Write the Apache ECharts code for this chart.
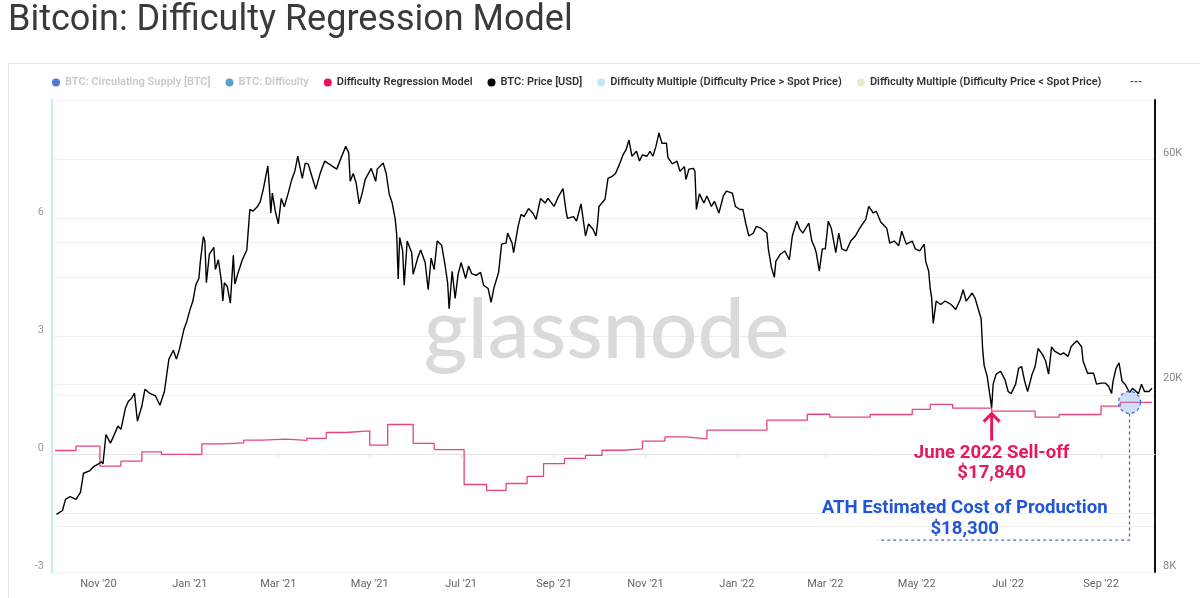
<!DOCTYPE html>
<html><head><meta charset="utf-8">
<script src="https://cdn.jsdelivr.net/npm/echarts@6/dist/echarts.min.js"></script>
<style>html,body{margin:0;padding:0;background:#fff;}#c{width:1200px;height:598px;}</style>
</head><body><div id="c"></div>
<script>
// ---------------- DATA ----------------
const titleText = 'Bitcoin: Difficulty Regression Model';
const seriesNames = ['BTC: Circulating Supply [BTC]', 'BTC: Difficulty', 'Difficulty Regression Model', 'BTC: Price [USD]',
  'Difficulty Multiple (Difficulty Price > Spot Price)', 'Difficulty Multiple (Difficulty Price < Spot Price)'];
const xMin = '2020-10-01', xMax = '2022-10-07';
const leftMin = -3, leftMax = 9, leftStep = 1.5;
const rightMin = 8000, rightMax = 80000;
const rightLabelValues = [8000, 20000, 60000];
const rightGridValues = [10000, 20000, 40000, 60000];

const priceDates = ['2020-10-04','2020-10-08','2020-10-10','2020-10-13','2020-10-17','2020-10-20','2020-10-22','2020-10-26','2020-10-29','2020-11-01','2020-11-03','2020-11-04','2020-11-06','2020-11-09','2020-11-12','2020-11-14','2020-11-16','2020-11-19','2020-11-21','2020-11-23','2020-11-25','2020-11-27','2020-11-30','2020-12-02','2020-12-05','2020-12-09','2020-12-12','2020-12-15','2020-12-18','2020-12-21','2020-12-23','2020-12-25','2020-12-28','2020-12-30','2021-01-01','2021-01-03','2021-01-05','2021-01-07','2021-01-08','2021-01-10','2021-01-11','2021-01-12','2021-01-14','2021-01-17','2021-01-18','2021-01-20','2021-01-22','2021-01-23','2021-01-24','2021-01-26','2021-01-28','2021-01-30','2021-01-31','2021-02-02','2021-02-05','2021-02-08','2021-02-10','2021-02-12','2021-02-15','2021-02-17','2021-02-19','2021-02-22','2021-02-23','2021-02-24','2021-02-25','2021-02-27','2021-03-01','2021-03-03','2021-03-05','2021-03-08','2021-03-10','2021-03-12','2021-03-14','2021-03-17','2021-03-19','2021-03-21','2021-03-23','2021-03-26','2021-03-29','2021-04-01','2021-04-03','2021-04-09','2021-04-12','2021-04-15','2021-04-17','2021-04-18','2021-04-20','2021-04-22','2021-04-24','2021-04-26','2021-04-28','2021-05-02','2021-05-05','2021-05-06','2021-05-10','2021-05-12','2021-05-14','2021-05-16','2021-05-18','2021-05-19','2021-05-20','2021-05-21','2021-05-23','2021-05-24','2021-05-26','2021-05-29','2021-05-30','2021-06-02','2021-06-04','2021-06-07','2021-06-09','2021-06-11','2021-06-13','2021-06-15','2021-06-18','2021-06-20','2021-06-22','2021-06-23','2021-06-25','2021-06-27','2021-06-29','2021-07-01','2021-07-04','2021-07-06','2021-07-08','2021-07-11','2021-07-14','2021-07-16','2021-07-19','2021-07-21','2021-07-23','2021-07-26','2021-07-28','2021-07-31','2021-08-01','2021-08-04','2021-08-05','2021-08-08','2021-08-10','2021-08-12','2021-08-15','2021-08-18','2021-08-20','2021-08-23','2021-08-26','2021-08-28','2021-09-01','2021-09-04','2021-09-07','2021-09-09','2021-09-10','2021-09-14','2021-09-16','2021-09-19','2021-09-22','2021-09-24','2021-09-27','2021-09-29','2021-09-30','2021-10-01','2021-10-05','2021-10-07','2021-10-10','2021-10-12','2021-10-14','2021-10-17','2021-10-19','2021-10-21','2021-10-23','2021-10-26','2021-10-28','2021-10-30','2021-11-02','2021-11-04','2021-11-06','2021-11-08','2021-11-10','2021-11-12','2021-11-15','2021-11-16','2021-11-19','2021-11-22','2021-11-24','2021-11-27','2021-11-28','2021-11-30','2021-12-03','2021-12-04','2021-12-05','2021-12-07','2021-12-10','2021-12-12','2021-12-15','2021-12-17','2021-12-20','2021-12-23','2021-12-25','2021-12-29','2021-12-31','2022-01-03','2022-01-05','2022-01-07','2022-01-09','2022-01-12','2022-01-14','2022-01-17','2022-01-21','2022-01-22','2022-01-24','2022-01-26','2022-01-27','2022-01-30','2022-02-02','2022-02-05','2022-02-07','2022-02-10','2022-02-12','2022-02-14','2022-02-18','2022-02-20','2022-02-22','2022-02-23','2022-02-25','2022-02-27','2022-03-01','2022-03-03','2022-03-05','2022-03-08','2022-03-10','2022-03-12','2022-03-15','2022-03-18','2022-03-21','2022-03-24','2022-03-28','2022-03-30','2022-04-02','2022-04-04','2022-04-07','2022-04-11','2022-04-13','2022-04-16','2022-04-19','2022-04-21','2022-04-24','2022-04-28','2022-04-30','2022-05-03','2022-05-06','2022-05-07','2022-05-09','2022-05-10','2022-05-11','2022-05-12','2022-05-14','2022-05-17','2022-05-20','2022-05-24','2022-05-27','2022-05-30','2022-06-01','2022-06-03','2022-06-07','2022-06-09','2022-06-11','2022-06-13','2022-06-14','2022-06-15','2022-06-17','2022-06-20','2022-06-21','2022-06-23','2022-06-26','2022-06-29','2022-07-01','2022-07-03','2022-07-06','2022-07-08','2022-07-10','2022-07-12','2022-07-14','2022-07-17','2022-07-19','2022-07-21','2022-07-24','2022-07-26','2022-07-28','2022-07-30','2022-08-01','2022-08-05','2022-08-07','2022-08-10','2022-08-12','2022-08-14','2022-08-16','2022-08-19','2022-08-20','2022-08-23','2022-08-25','2022-08-27','2022-08-29','2022-09-01','2022-09-04','2022-09-06','2022-09-08','2022-09-09','2022-09-11','2022-09-13','2022-09-15','2022-09-17','2022-09-20','2022-09-22','2022-09-26','2022-09-28','2022-09-30','2022-10-03','2022-10-05'];
const priceValues = [10600,10800,11400,11550,11400,11800,12950,13100,13400,13550,13700,13550,15650,15000,15750,16300,16050,17800,18400,18650,19150,16700,18000,19500,19150,18900,18050,19300,22600,23600,22600,23700,26100,27200,28700,30000,32500,33500,36400,41100,40200,32800,37700,39000,35000,36700,33100,30000,32800,32200,29700,37500,32600,34300,36700,38500,46900,46500,47500,48800,51800,58000,52500,46100,50800,46500,43700,49500,47500,51300,54300,56500,60800,54600,58800,58500,55700,51800,56000,59400,58800,57100,60400,63800,61800,53800,55900,53300,48200,50800,54300,57300,53800,57100,58800,55900,50600,48400,44800,41500,33400,40900,38300,32400,40200,38000,34200,37000,38500,36200,31700,37000,35000,40200,39400,36200,32800,28900,34700,30400,34200,36200,33500,35600,34300,34000,34500,32400,31900,29800,32100,34500,39600,39800,41800,39800,38000,43200,45800,45300,47100,46000,44700,49500,48400,49500,47600,50000,51900,46500,44900,45300,44300,48200,41200,43700,42600,41200,43700,47600,49300,54600,55200,55900,57800,61200,62700,65800,60800,62300,59400,61200,60800,62300,60800,63800,68100,64800,64800,60400,58600,59400,56500,57800,54300,57100,57300,56500,46900,50600,48400,50100,47600,48800,46100,50100,51300,50800,47600,46900,46900,43700,41200,41800,43200,42800,41800,38700,35400,33700,36400,37700,38300,36700,41200,44300,42600,41800,43900,40200,38900,37900,34700,38700,38700,44300,42800,38000,41800,38700,38300,40200,41200,42800,44700,47600,46100,46500,44100,42800,39800,40200,39300,42200,39600,40200,38700,38300,39600,36400,34700,31900,30400,26900,30000,29500,30000,29500,28800,30200,31700,30000,31200,30400,28900,27500,23700,21900,20800,17840,20000,21000,21300,20400,19300,19100,20000,21600,21800,20300,19300,21000,21800,23800,23100,22400,21000,24000,23500,23100,23300,22900,24000,24400,24700,24000,22400,21100,21100,21100,20000,20100,20100,19800,19100,20300,21600,22200,20300,20000,19200,19600,19100,20000,19300,19300,19600];

const modelDates = ['2020-10-03','2020-10-17','2020-11-02','2020-11-16','2020-11-30','2020-12-13','2021-01-09','2021-01-23','2021-02-06','2021-02-19','2021-03-06','2021-03-20','2021-04-02','2021-04-15','2021-05-01','2021-05-13','2021-05-30','2021-06-13','2021-07-03','2021-07-18','2021-07-31','2021-08-14','2021-08-25','2021-09-08','2021-09-22','2021-10-03','2021-10-17','2021-10-30','2021-11-14','2021-11-28','2021-12-12','2022-01-21','2022-02-17','2022-03-04','2022-03-31','2022-04-28','2022-05-10','2022-05-25','2022-06-20','2022-07-19','2022-08-04','2022-09-01','2022-09-14','2022-10-05'];
const modelValues = [14470,14780,13410,13740,14380,14200,14950,15020,15220,15290,15200,15350,15800,15920,14850,16430,14980,14540,12260,11910,12320,12750,13580,13920,14130,14490,14580,15150,15460,15310,15980,16780,17270,17030,17250,17680,18120,17790,17530,17030,17250,17970,18300,18300];

const sellOff = { date: '2022-06-20', value: 17840, line1: 'June 2022 Sell-off', line2: '$17,840' };
const athCost = { date: '2022-09-20', line1: 'ATH Estimated Cost of Production', line2: '$18,300',
                  textDate: '2022-06-02', guideValue: 9350, guideStart: '2022-04-05' };

// ---------------- CHART ----------------
const FONT = 'Roboto, "Noto Sans", sans-serif';
const months = ['Jan','Feb','Mar','Apr','May','Jun','Jul','Aug','Sep','Oct','Nov','Dec'];
function ts(s){ const p = s.split('-').map(Number); return new Date(p[0], p[1]-1, p[2]).getTime(); }
const chart = echarts.init(document.getElementById('c'));

const colors = ['#3563c9', '#3a93c6', '#e8336e', '#000000', '#bfe9f2', '#e6ecc0'];
const legendData = seriesNames.map((n, i) => {
  const item = { name: n, itemStyle: { color: i === 2 ? '#e8125c' : colors[i] } };
  if (i < 2) { item.textStyle = { color: '#c9c9c9' }; item.itemStyle.opacity = 0.85; }
  return item;
});

const series = seriesNames.map((n, i) => ({ name: n, type: 'line', yAxisIndex: 1, data: [], color: colors[i], showSymbol: false }));
series[2] = { name: seriesNames[2], type: 'line', step: 'end', yAxisIndex: 1, showSymbol: false, color: colors[2],
  lineStyle: { color: '#e8467a', width: 1.3 }, data: modelDates.map((d, i) => [ts(d), modelValues[i]]), z: 3 };
series[3] = { name: seriesNames[3], type: 'line', yAxisIndex: 1, showSymbol: false, color: '#000',
  lineStyle: { color: '#000', width: 1.4 }, data: priceDates.map((d, i) => [ts(d), priceValues[i]]), z: 4 };

chart.setOption({
  animation: false,
  backgroundColor: '#fff',
  title: { text: titleText, left: 3, top: -2, textStyle: { fontFamily: FONT, fontSize: 36, fontWeight: 400, color: '#3a3a3a' } },
  legend: { left: 47, top: 72, icon: 'circle', itemWidth: 8, itemHeight: 8, itemGap: 15,
    textStyle: { fontFamily: FONT, fontSize: 11, fontWeight: 600, color: '#333' }, data: legendData },
  grid: { left: 52, right: 45, top: 100, bottom: 26 },
  xAxis: { type: 'time', min: ts(xMin), max: ts(xMax), splitNumber: 10,
    axisLine: { lineStyle: { color: '#e2e2e2' } },
    axisTick: { show: true, length: 4, lineStyle: { color: '#e2e2e2' } },
    axisLabel: { color: '#666', fontSize: 11, fontFamily: FONT, margin: 7, showMinLabel: false, showMaxLabel: false,
      formatter: v => { const d = new Date(v); return months[d.getMonth()] + " '" + String(d.getFullYear()).slice(2); } },
    splitLine: { show: false } },
  yAxis: [
    { type: 'value', min: leftMin, max: leftMax, interval: leftStep, position: 'left',
      axisLine: { show: true, lineStyle: { color: '#c4ecf3', width: 2 } }, axisTick: { show: false },
      axisLabel: { color: '#999', fontSize: 11, fontFamily: FONT, verticalAlign: 'bottom', margin: 8,
        formatter: v => (Math.abs(v % 3) < 1e-9 && v < leftMax) ? String(v) : '' },
      splitLine: { lineStyle: { color: '#efefef' } } },
    { type: 'log', logBase: 10, min: rightMin, max: rightMax, position: 'right',
      axisLine: { show: true, lineStyle: { color: '#111', width: 2 } },
      axisTick: { show: false, customValues: rightGridValues },
      axisLabel: { customValues: rightLabelValues, color: '#888', fontSize: 11, fontFamily: FONT, verticalAlign: 'bottom', margin: 8,
        formatter: v => Math.round(v / 1000) + 'K' },
      splitLine: { show: true, lineStyle: { color: '#efefef' } } }
  ],
  series: series
});

// ---------------- ANNOTATIONS (anchored on data coordinates) ----------------
const P = (d, v) => chart.convertToPixel({ seriesIndex: 3 }, [ts(d), v]);
const gLeft = P(xMin, rightMax);
const gRight = P(xMax, rightMin);
const cx = (gLeft[0] + gRight[0]) / 2, cy = (gLeft[1] + gRight[1]) / 2;

const s = P(sellOff.date, sellOff.value);
const tip = s[1] + 5;
let mi = 0;
for (let i = 0; i < modelDates.length; i++) if (ts(modelDates[i]) <= ts(athCost.date)) mi = i;
const c = P(athCost.date, modelValues[mi]);
const g = P(athCost.date, athCost.guideValue);
const gl = P(athCost.guideStart, athCost.guideValue);
const tx = P(athCost.textDate, athCost.guideValue)[0];
const PINK = '#e5195e', BLUE = '#1f55d6', DASH = '#3d6ed8';
const annFont = 'bold 18.6px Roboto, "Noto Sans", sans-serif';

chart.setOption({
  graphic: [
    { type: 'rect', shape: { x: 8.5, y: 63.5, width: 1210, height: 560 }, style: { fill: 'none', stroke: '#e6e6e6', lineWidth: 1 }, silent: true, z: -1 },
    { type: 'text', x: cx + 3, y: cy - 5, style: { text: 'glassnode', font: '500 84px Lato, Inter, sans-serif', fill: '#dadada', align: 'center', verticalAlign: 'middle' }, silent: true, z: 0 },
    { type: 'text', x: 1130, y: 82, style: { text: '---', font: '600 11px Roboto, sans-serif', fill: '#555', verticalAlign: 'middle' }, silent: true },
    { type: 'line', shape: { x1: s[0], y1: tip + 2, x2: s[0], y2: tip + 28 }, style: { stroke: PINK, lineWidth: 3 }, z: 10 },
    { type: 'polyline', shape: { points: [[s[0] - 8, tip + 9], [s[0], tip + 1], [s[0] + 8, tip + 9]] }, style: { stroke: PINK, lineWidth: 3, fill: 'none', lineJoin: 'miter' }, z: 10 },
    { type: 'text', x: s[0], y: tip + 41, style: { text: sellOff.line1, font: annFont, fill: PINK, align: 'center', verticalAlign: 'middle' }, z: 10 },
    { type: 'text', x: s[0], y: tip + 61, style: { text: sellOff.line2, font: annFont, fill: PINK, align: 'center', verticalAlign: 'middle' }, z: 10 },
    { type: 'circle', shape: { cx: c[0], cy: c[1], r: 11 }, style: { fill: 'rgba(120,160,240,0.35)', stroke: DASH, lineWidth: 1.3, lineDash: [3, 3] }, z: 10 },
    { type: 'polyline', shape: { points: [[c[0], c[1] + 11], [c[0], g[1]], [gl[0], g[1]]] }, style: { stroke: DASH, lineWidth: 1.3, lineDash: [3, 3], fill: 'none' }, z: 10 },
    { type: 'text', x: tx, y: g[1] - 32, style: { text: athCost.line1, font: annFont, fill: BLUE, align: 'center', verticalAlign: 'middle' }, z: 10 },
    { type: 'text', x: tx, y: g[1] - 11, style: { text: athCost.line2, font: annFont, fill: BLUE, align: 'center', verticalAlign: 'middle' }, z: 10 }
  ]
});
</script>
</body></html>
